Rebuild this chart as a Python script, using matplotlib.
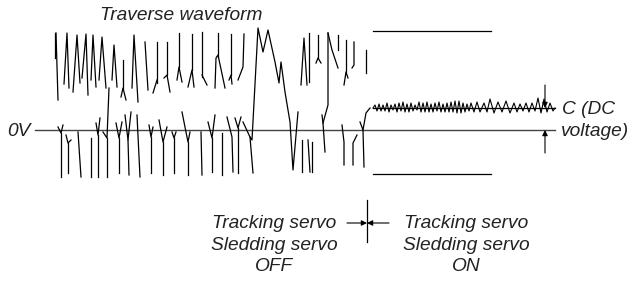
import matplotlib
matplotlib.use("Agg")
import matplotlib.pyplot as plt

# levels (pixel rows of the sketch)
zero_level = 130
dc_level = 108
env_top = 31
env_bottom = 174
switch_x = 367

# traverse waveform strokes, servo OFF part
upper_strokes = [
    [(55, 33), (55, 58)],
    [(56, 33), (58, 100)],
    [(64, 84), (67, 33), (69, 88)],
    [(73, 92), (77, 35), (80, 83)],
    [(82, 78), (86, 34), (88, 95)],
    [(91, 80), (93, 35), (96, 87)],
    [(99, 80), (102, 37), (106, 88)],
    [(112, 80), (114, 45), (117, 87)],
    [(121, 97), (123, 88), (126, 100)],
    [(123, 60), (123, 88)],
    [(132, 88), (134, 35), (138, 102)],
    [(145, 42), (148, 90)],
    [(153, 93), (157, 80)],
    [(157, 42), (157, 83)],
    [(164, 78), (167, 75), (170, 92)],
    [(167, 42), (167, 75)],
    [(177, 80), (179, 67), (182, 82)],
    [(179, 33), (179, 67)],
    [(188, 87), (192, 70), (194, 87)],
    [(192, 34), (192, 70)],
    [(202, 75), (207, 85)],
    [(202, 32), (202, 77)],
    [(215, 88), (216, 58), (218, 55), (225, 88)],
    [(218, 33), (218, 57)],
    [(229, 80), (231, 75), (232, 84)],
    [(231, 34), (231, 75)],
    [(238, 80), (243, 67), (244, 34)],
    [(301, 85), (304, 38), (307, 85)],
    [(309, 33), (309, 82)],
    [(316, 63), (318, 58), (321, 63)],
    [(318, 35), (318, 58)],
    [(328, 33), (332, 50), (338, 68)],
    [(338, 35), (338, 50)],
    [(344, 85), (346, 72), (348, 78)],
    [(346, 40), (346, 72)],
    [(352, 68), (354, 65), (354, 42)],
    [(366, 50), (366, 73)],
]

lower_strokes = [
    [(58, 127), (61, 133), (63, 125)], [(61, 133), (61, 177)],
    [(66, 135), (68, 143), (71, 140)], [(68, 143), (68, 173)],
    [(78, 132), (81, 177)],
    [(91, 138), (91, 177)],
    [(96, 123), (98, 135), (100, 118)], [(98, 135), (98, 177)],
    [(103, 132), (107, 138), (109, 88)], [(107, 138), (107, 177)],
    [(116, 123), (119, 138), (122, 122)], [(119, 138), (119, 173)],
    [(125, 115), (128, 140), (131, 112)], [(128, 140), (129, 175)],
    [(137, 115), (140, 177)],
    [(149, 125), (151, 137), (153, 127)], [(151, 137), (151, 173)],
    [(159, 120), (163, 142), (167, 127)], [(163, 142), (163, 175)],
    [(172, 132), (174, 138), (176, 132)], [(174, 138), (174, 173)],
    [(182, 112), (188, 142), (190, 132)], [(188, 142), (188, 175)],
    [(201, 132), (202, 175)],
    [(208, 122), (212, 138), (215, 115)], [(212, 138), (212, 172)],
    [(222, 133), (222, 175)],
    [(227, 117), (232, 137), (233, 172)],
    [(235, 118), (238, 128), (241, 117)], [(238, 128), (238, 173)],
    [(302, 140), (302, 172)],
    [(308, 140), (310, 172)],
    [(312, 142), (312, 172)],
    [(342, 125), (344, 142), (344, 165)],
    [(353, 165), (353, 143), (357, 135)],
    [(360, 122), (363, 130), (366, 113), (370, 108)], [(363, 130), (364, 167)],
]

burst_strokes = [
    [(243, 122), (250, 137), (252, 140), (258, 28), (263, 52), (268, 30),
     (275, 62), (279, 83), (281, 62), (285, 92), (290, 122), (293, 170),
     (298, 112)],
    [(250, 137), (253, 173)],
    [(328, 33), (328, 105), (323, 123), (325, 152)],
    [(322, 115), (323, 123)],
]

# residual ripple after servo ON
noise_pts = [
    (373, 108), (375, 105), (377, 111), (379, 104), (381, 111), (383, 105),
    (385, 111), (387, 103), (389, 112), (391, 105), (393, 110), (395, 104),
    (397, 112), (399, 103), (401, 111), (403, 102), (405, 112), (407, 104),
    (409, 112), (411, 103), (413, 111), (415, 105), (417, 110), (419, 102),
    (421, 112), (423, 103), (425, 112), (427, 102), (429, 112), (431, 104),
    (433, 112), (435, 103), (437, 111), (439, 102), (441, 112), (443, 104),
    (445, 112), (447, 103), (449, 112), (451, 102), (453, 112), (455, 101),
    (457, 113), (459, 101), (461, 113), (463, 103), (465, 112), (467, 104),
    (469, 111), (471, 103), (474, 112), (477, 102), (480, 112), (484, 103),
    (487, 112), (490, 99), (494, 113), (498, 102), (502, 112), (506, 101),
    (510, 113), (514, 103), (517, 112), (520, 104), (523, 111), (526, 103),
    (529, 112), (532, 103), (535, 111), (538, 98), (541, 113), (544, 99),
    (547, 112), (550, 103), (553, 111), (555, 108),
]

fig = plt.figure(figsize=(6.35, 2.81), dpi=100)
ax = fig.add_axes([0, 0, 1, 1])
ax.set_xlim(0, 635)
ax.set_ylim(281, 0)
ax.axis("off")

ink = "black"
txt = "#222222"
font = dict(family=["Liberation Sans", "DejaVu Sans"], style="italic",
            fontsize=13.8, color=txt)

# 0V reference line
ax.plot([35, 555], [zero_level, zero_level], color="#444444", lw=1.0)

# traverse waveform
for s in upper_strokes + lower_strokes + burst_strokes:
    xs, ys = zip(*s)
    ax.plot(xs, ys, color=ink, lw=0.9)

# envelope after servo ON
ax.plot([373, 491], [env_top, env_top], color=ink, lw=0.9)
ax.plot([373, 491], [env_bottom, env_bottom], color=ink, lw=0.9)
ax.plot([373, 555], [dc_level, dc_level], color=ink, lw=0.9)
nx, ny = zip(*noise_pts)
ax.plot(nx, ny, color=ink, lw=0.8)

# DC voltage arrows
arr = dict(arrowstyle="-|>", color=ink, lw=0.8, mutation_scale=8,
           shrinkA=0, shrinkB=0)
ax.annotate("", xy=(545, dc_level), xytext=(545, 85), arrowprops=arr)
ax.annotate("", xy=(545, zero_level), xytext=(545, 153), arrowprops=arr)

# switching point
ax.plot([switch_x, switch_x], [200, 242], color=ink, lw=0.9)
ax.annotate("", xy=(switch_x, 223), xytext=(347, 223), arrowprops=arr)
ax.annotate("", xy=(switch_x, 223), xytext=(389, 223), arrowprops=arr)

# labels
ax.text(100, 16, "Traverse waveform", ha="left", va="center", **font)
ax.text(7, 131, "0V", ha="left", va="center", **font)
ax.text(562, 109, "C (DC", ha="left", va="center", **font)
ax.text(561, 131, "voltage)", ha="left", va="center", **font)
ax.text(274, 245, "Tracking servo\nSledding servo\nOFF", ha="center",
        va="center", multialignment="center", linespacing=1.35, **font)
ax.text(466, 245, "Tracking servo\nSledding servo\nON", ha="center",
        va="center", multialignment="center", linespacing=1.35, **font)

fig.savefig("out.png", dpi=100)
